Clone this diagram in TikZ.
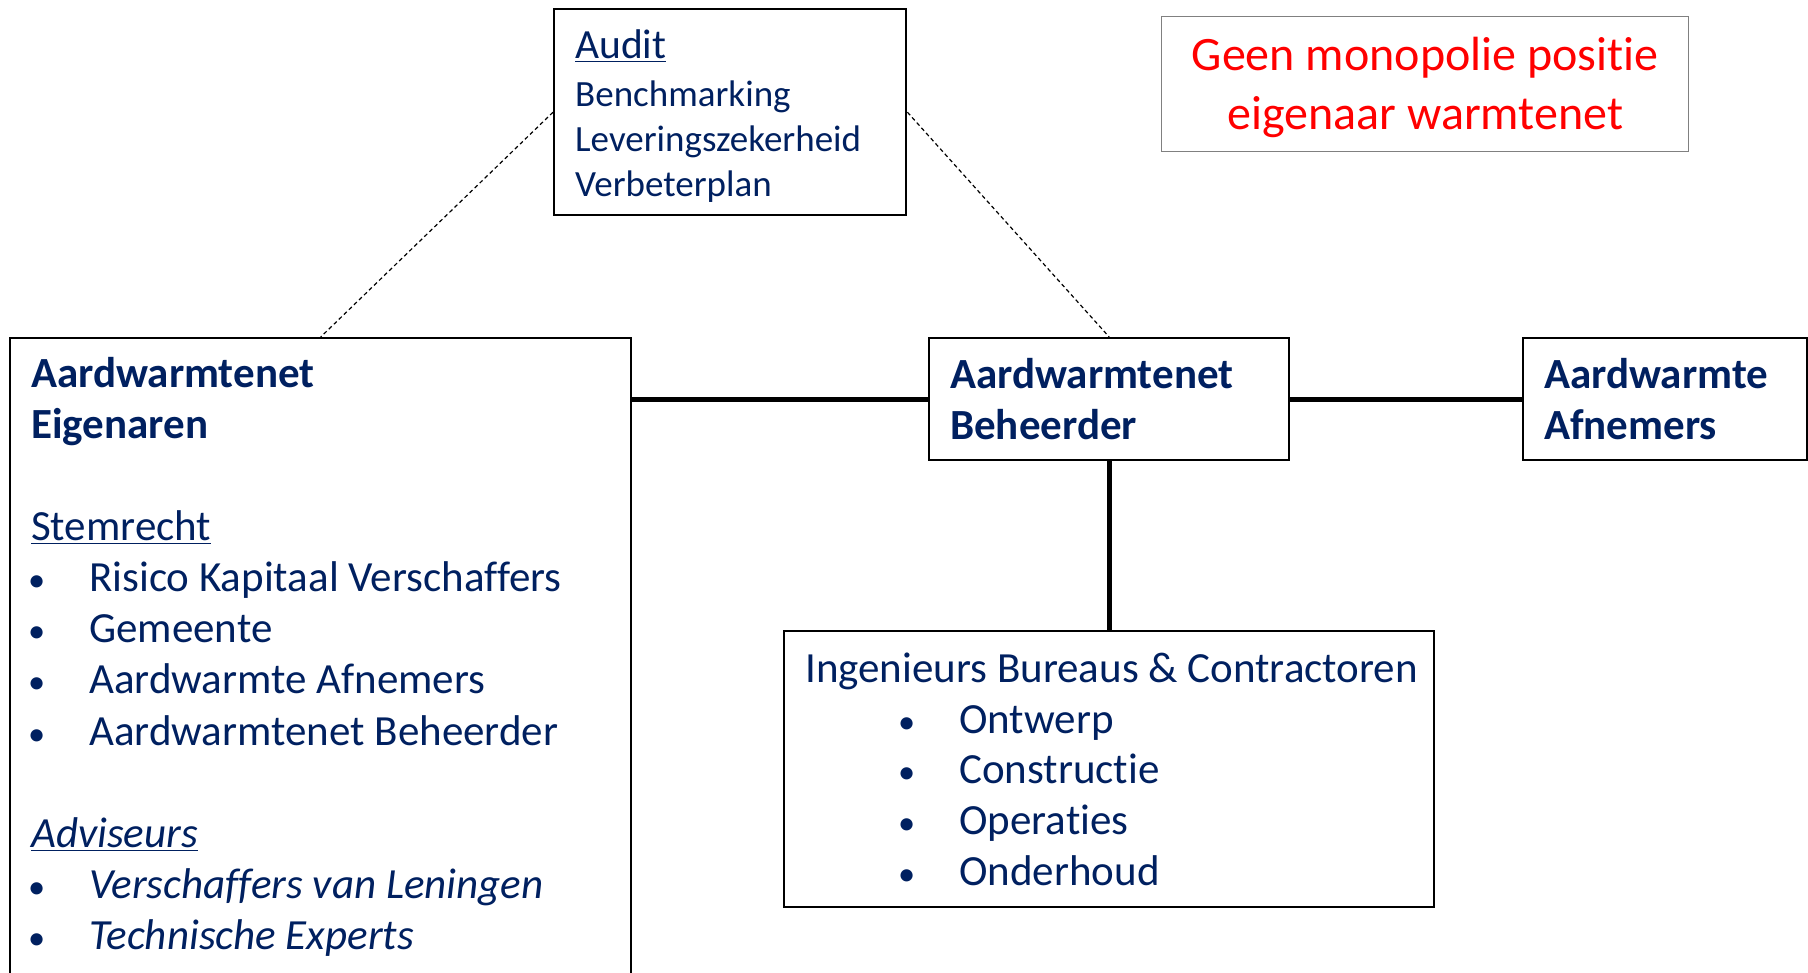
\documentclass[tikz,border=0pt]{standalone}
\usepackage{fontspec}
\setmainfont{Carlito}[Ligatures=NoCommon]
\usepackage{tikz}
\usetikzlibrary{positioning}
\usepackage{xcolor}
\definecolor{textnavy}{HTML}{002060}
\definecolor{alertred}{HTML}{FF0000}
\newcommand{\bul}[2][-1.5pt]{\hspace*{#1}\makebox[30.5pt][l]{\scalebox{0.8}{\textbullet}}#2}

\begin{document}
\begin{tikzpicture}[x=0.5pt, y=-0.5pt,
  orgbox/.style={rectangle, draw=black, line width=1.2pt, text=textnavy,
    align=left, inner xsep=10.5pt, inner ysep=0pt, anchor=north west,
    execute at begin node={\spaceskip=0pt \xspaceskip=0pt}},
  bodyfont/.style={font=\fontsize{21.5}{25.55}\selectfont},
  link/.style={line width=2.6pt},
  auditlink/.style={line width=0.6pt, dash pattern=on 2pt off 1.5pt}]
\useasboundingbox (0,0) rectangle (1808,973);
\clip (0,0) rectangle (1808,973);

\node[orgbox, text width=155pt, minimum height=103pt,
      font=\fontsize{18.5}{22.5}\selectfont] (audit) at (553,8) {
\rule{0pt}{18.5pt}{\fontsize{20.75}{22.5}\selectfont\underline{Audit}}\\[1.5pt]
Benchmarking\\
Leveringszekerheid\\
Verbeterplan
};

\node[rectangle, draw=gray, line width=0.7pt, text=alertred, align=center,
      minimum width=263.5pt, minimum height=67.5pt, inner sep=0pt,
      anchor=north west, font=\fontsize{24}{29.5}\selectfont,
      execute at begin node={\spaceskip=0pt \xspaceskip=0pt}] (monopoly) at (1161,16) {
\rule{0pt}{19.5pt}Geen monopolie positie\\
eigenaar warmtenet
};

\node[orgbox, bodyfont, text width=289.5pt, inner ysep=9.5pt] (owners) at (9,337) {
\textbf{Aardwarmtenet}\\
\textbf{Eigenaren}\\[25.55pt]
\underline{Stemrecht}\\
\bul{Risico Kapitaal Verschaffers}\\
\bul{Gemeente}\\
\bul{Aardwarmte Afnemers}\\
\bul{Aardwarmtenet Beheerder}\\[25.55pt]
\underline{\textit{Adviseurs}}\\
\bul{\textit{Verschaffers van Leningen}}\\
\bul{\textit{Technische Experts}}\\[60pt]
\mbox{}
};

\node[orgbox, bodyfont, text width=159pt, minimum height=61pt] (operator) at (928,337) {
\textbf{Aardwarmtenet}\\
\textbf{Beheerder}
};

\node[orgbox, bodyfont, text width=121pt, minimum height=61pt] (customers) at (1522,337) {
\textbf{Aardwarmte}\\
\textbf{Afnemers}
};

\node[orgbox, font=\fontsize{21.5}{25.3}\selectfont, text width=304pt,
      minimum height=138pt] (contractors) at (783,630) {
\mbox{Ingenieurs Bureaus \& Contractoren}\\
\bul[46.5pt]{Ontwerp}\\
\bul[46.5pt]{Constructie}\\
\bul[46.5pt]{Operaties}\\
\bul[46.5pt]{Onderhoud}
};

\draw[link] (operator.west) -- (operator.west -| owners.east);
\draw[link] (operator.east) -- (customers.west);
\draw[link] (operator.south) -- (contractors.north);
\draw[auditlink] (audit.west) -- (owners.north);
\draw[auditlink] (audit.east) -- (operator.north);
\end{tikzpicture}
\end{document}
